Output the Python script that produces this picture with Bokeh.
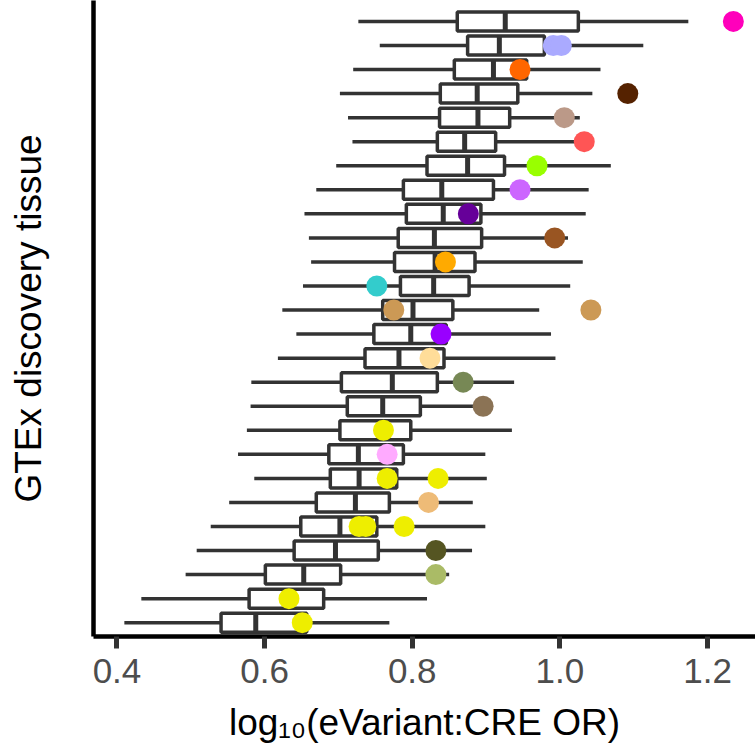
from bokeh.plotting import figure
from bokeh.models import Range1d, FixedTicker, ColumnDataSource
from bokeh.embed import file_html
from bokeh.resources import INLINE

# x-axis ticks
tick_values = [0.4, 0.6, 0.8, 1.0, 1.2]
tick_labels = ["0.4", "0.6", "0.8", "1.0", "1.2"]

# Box-plot summaries per discovery tissue (top row first), log10 OR
whisker_low = [0.727, 0.756, 0.720, 0.702, 0.713, 0.719, 0.697, 0.670, 0.654, 0.660,
               0.663, 0.652, 0.624, 0.643, 0.618, 0.582, 0.581, 0.576, 0.564, 0.586,
               0.552, 0.527, 0.508, 0.493, 0.433, 0.410]
q1 = [0.861, 0.875, 0.857, 0.838, 0.837, 0.834, 0.820, 0.788, 0.792, 0.781,
      0.776, 0.784, 0.760, 0.748, 0.736, 0.704, 0.712, 0.702, 0.687, 0.689,
      0.670, 0.649, 0.640, 0.601, 0.579, 0.541]
median = [0.926, 0.918, 0.910, 0.888, 0.889, 0.871, 0.875, 0.840, 0.842, 0.830,
          0.831, 0.829, 0.801, 0.798, 0.782, 0.773, 0.760, 0.760, 0.727, 0.728,
          0.723, 0.702, 0.696, 0.653, 0.631, 0.588]
q3 = [1.025, 0.979, 0.955, 0.943, 0.932, 0.913, 0.925, 0.910, 0.893, 0.894,
      0.885, 0.877, 0.855, 0.846, 0.843, 0.834, 0.811, 0.798, 0.788, 0.779,
      0.769, 0.752, 0.754, 0.703, 0.680, 0.657]
whisker_high = [1.174, 1.113, 1.055, 1.044, 1.027, 1.027, 1.069, 1.039, 1.035, 1.011,
                1.031, 1.014, 0.972, 0.988, 0.994, 0.938, 0.892, 0.935, 0.899, 0.901,
                0.882, 0.899, 0.881, 0.850, 0.820, 0.769]

# GTEx tissue colour for each row
tissue_colors = ["#FF00BB", "#AAAAFF", "#FF6600", "#552200", "#BB9988", "#FF5555",
                 "#99FF00", "#CC66FF", "#660099", "#995522", "#FFAA00", "#33CCCC",
                 "#CC9955", "#9900FF", "#FFDD99", "#778855", "#8B7355", "#EEEE00",
                 "#FFAAFF", "#EEEE00", "#EEBB77", "#EEEE00", "#555522", "#AABB66",
                 "#EEEE00", "#EEEE00"]

# Highlighted points: row index (0 = top) and value
dot_row = [0, 1, 1, 2, 3, 4, 5, 6, 7, 8, 9, 10, 11, 12, 12, 13, 14, 15, 16, 17,
           18, 19, 19, 20, 21, 21, 21, 22, 23, 24, 25]
dot_value = [1.235, 0.991, 1.002, 0.946, 1.092, 1.006, 1.033, 0.969, 0.946, 0.876,
             0.993, 0.845, 0.752, 0.775, 1.042, 0.839, 0.824, 0.869, 0.896, 0.761,
             0.766, 0.766, 0.835, 0.822, 0.728, 0.737, 0.789, 0.832, 0.832, 0.633,
             0.651]

n = len(median)
ypos = [n - i for i in range(n)]
half = 0.395

box_src = ColumnDataSource(dict(
    y=ypos, lo=whisker_low, q1=q1, med=median, q3=q3, hi=whisker_high,
    y0=[v - half for v in ypos], y1=[v + half for v in ypos],
))
dot_src = ColumnDataSource(dict(
    x=dot_value,
    y=[ypos[r] for r in dot_row],
    c=[tissue_colors[r] for r in dot_row],
))

p = figure(width=755, height=746,
           x_range=Range1d(0.3682, 1.265), y_range=Range1d(0.426, 26.87),
           output_backend="svg", toolbar_location=None,
           min_border_left=93, min_border_right=0, min_border_top=0,
           min_border_bottom=110)
p.outline_line_color = None
p.grid.visible = False
p.background_fill_color = "white"
p.border_fill_color = "white"

ink = "#333333"
p.segment(x0="lo", y0="y", x1="hi", y1="y", source=box_src,
          line_color=ink, line_width=3.5)
p.hbar(y="y", left="q1", right="q3", height=2 * half, source=box_src,
       fill_color="white", line_color=ink, line_width=3.5)
p.segment(x0="med", y0="y0", x1="med", y1="y1", source=box_src,
          line_color=ink, line_width=5)
p.scatter(x="x", y="y", source=dot_src, marker="circle", size=21,
          fill_color="c", line_color=None)

font = "Liberation Sans"

xa = p.xaxis[0]
xa.ticker = FixedTicker(ticks=tick_values)
xa.major_label_overrides = {v: s for v, s in zip(tick_values, tick_labels)}
xa.axis_line_color = "black"
xa.axis_line_width = 4.5
xa.major_tick_line_color = ink
xa.major_tick_line_width = 5
xa.major_tick_out = 12
xa.major_tick_in = 0
xa.minor_tick_line_color = None
xa.major_label_text_font = font
xa.major_label_text_font_size = "35px"
xa.major_label_text_color = "#4D4D4D"
xa.major_label_standoff = 10
xa.axis_label = "log\u2081\u2080(eVariant:CRE OR)"
xa.axis_label_text_font = font
xa.axis_label_text_font_size = "37px"
xa.axis_label_text_font_style = "normal"
xa.axis_label_text_color = "black"
xa.axis_label_standoff = 16

ya = p.yaxis[0]
ya.ticker = FixedTicker(ticks=[])
ya.axis_line_color = "black"
ya.axis_line_width = 4.5
ya.major_tick_line_color = None
ya.minor_tick_line_color = None
ya.axis_label = "GTEx discovery tissue"
ya.axis_label_text_font = font
ya.axis_label_text_font_size = "37px"
ya.axis_label_text_font_style = "normal"
ya.axis_label_text_color = "black"
ya.axis_label_standoff = 45

open("out.html", "w").write(file_html(p, INLINE))
